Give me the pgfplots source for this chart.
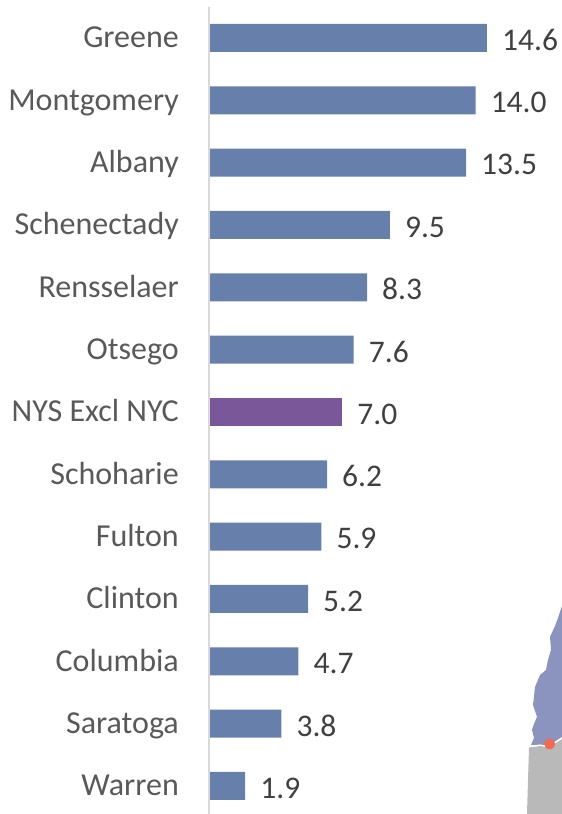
\documentclass[border=0pt]{standalone}
\usepackage{pgfplots}
\pgfplotsset{compat=1.18}
\usepackage{fontspec}
\setmainfont{Carlito}
\definecolor{barblue}{HTML}{6680AB}
\definecolor{barpurple}{HTML}{7A5799}
\definecolor{axisgrey}{HTML}{D9D9D9}
\definecolor{labelgrey}{HTML}{595959}
\definecolor{valgrey}{HTML}{404040}
\definecolor{mapblue}{HTML}{8A94BE}
\definecolor{mapgrey}{HTML}{B9B9B9}
\definecolor{mapdot}{HTML}{F4694F}
\begin{document}
\begin{tikzpicture}
\useasboundingbox (0,0) rectangle (562bp,814bp);
\begin{scope}[x=1bp,y=-1bp,shift={(0,814bp)}]
\fill[mapblue] (562,606) -- (558,618) -- (555,626) -- (550,637) -- (551,650) -- (548,660) -- (546,670) -- (540,675) -- (535,687) -- (534,697) -- (533,705) -- (537,717) -- (534,724) -- (532,730) -- (534,738) -- (531,745) -- (562,745) -- cycle;
\fill[white] (528,746) -- (540,744.5) -- (548,746) -- (556,741) -- (562,737) -- (562,745) -- (528,749) -- cycle;
\fill[mapgrey] (529,747.5) -- (541,746) -- (549,748) -- (556,743) -- (562,739) -- (562,814) -- (527,814) -- cycle;
\fill[mapdot] (549.7,744) circle (5.5);
\end{scope}
\begin{axis}[
  at={(209bp,0bp)}, anchor=south west,
  scale only axis,
  width=353bp, height=807bp,
  xmin=0, xmax=18.54,
  ymin=-0.497, ymax=12.45,
  y dir=reverse,
  axis x line=none,
  axis y line=left,
  axis line style={axisgrey, line width=2bp, -},
  axis on top,
  xbar, bar width=28bp, bar shift=0pt,
  ytick={0,...,12},
  yticklabels={Greene,Montgomery,Albany,Schenectady,Rensselaer,Otsego,NYS Excl NYC,Schoharie,Fulton,Clinton,Columbia,Saratoga,Warren},
  major tick length=0pt,
  y tick label style={font=\fontsize{32bp}{32bp}\selectfont, text=labelgrey, anchor=east, inner sep=0pt, xshift=-30bp, yshift=-0.5bp, text height=24bp, text depth=5bp},
  nodes near coords,
  /pgf/number format/fixed, /pgf/number format/precision=1, /pgf/number format/fixed zerofill,
  /pgf/number format/assume math mode=true,
  nodes near coords style={font=\fontsize{31.5bp}{32bp}\selectfont, text=valgrey, anchor=west, inner sep=0pt, xshift=15bp, yshift=-2bp},
  clip=false,
]
\addplot[fill=barblue, draw=none] coordinates {(14.6,0) (14.0,1) (13.5,2) (9.5,3) (8.3,4) (7.6,5) (6.2,7) (5.9,8) (5.2,9) (4.7,10) (3.8,11) (1.9,12)};
\addplot[fill=barpurple, draw=none] coordinates {(7.0,6)};
\end{axis}
\end{tikzpicture}
\end{document}
